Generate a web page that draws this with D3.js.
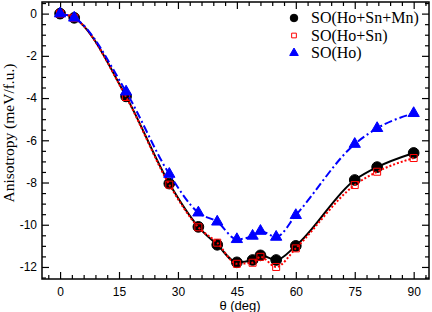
<!DOCTYPE html>
<html>
<head>
<meta charset="utf-8">
<script src="https://cdn.jsdelivr.net/npm/d3@7"></script>
<style>
  body { margin: 0; background: #fff; }
  svg { display: block; }
</style>
</head>
<body>
<svg id="chart" width="432" height="312"></svg>
<script>
const angles = [0, 3.6, 16.8, 27.8, 35.2, 40, 45, 49, 51, 55, 60, 75, 80.7, 90]
const soHoSnMn = [0, -0.2, -3.92, -8.05, -10.1, -10.95, -11.78, -11.67, -11.45, -11.67, -11.0, -7.88, -7.27, -6.6]
const soHoSn = [0, -0.2, -3.95, -8.1, -10.12, -10.85, -11.85, -11.8, -11.52, -12.0, -11.12, -8.12, -7.49, -6.84]
const soHo = [0, -0.2, -3.7, -7.6, -9.43, -9.86, -10.69, -10.53, -10.3, -10.58, -9.55, -6.18, -5.43, -4.72]

const xTicks = [0, 15, 30, 45, 60, 75, 90]
const yTicks = [0, -2, -4, -6, -8, -10, -12]
const seriesNames = ["SO(Ho+Sn+Mn)", "SO(Ho+Sn)", "SO(Ho)"]

const svg = d3.select('#chart')
const plotL = 42, plotR = 429, plotT = 2, plotB = 279

const x = d3.scaleLinear().domain([-4.6, 93.9]).range([plotL, plotR])
const y = d3.scaleLinear().domain([0.55, -12.57]).range([plotT, plotB])

const xMinor = d3.range(-3, 94, 3).filter(v => v % 15 !== 0)
const yMinor = d3.range(0.5, -12.6, -0.5).filter(v => v % 2 !== 0)

const tickFont = "'Liberation Sans', Arial, sans-serif"
const serif = "'Liberation Serif', 'Times New Roman', serif"

function styleAxis (g) {
  g.select('.domain').remove()
  g.selectAll('line').attr('stroke', '#000').attr('stroke-width', 1.2)
  g.selectAll('text').attr('fill', '#000').style('font-family', tickFont).style('font-size', '12px')
}

// bottom / top
svg.append('g').attr('transform', `translate(0,${plotB})`)
  .call(d3.axisBottom(x).tickValues(xTicks).tickSize(-7).tickPadding(8.5).tickFormat(d3.format('d')))
  .call(styleAxis)
svg.append('g').attr('transform', `translate(0,${plotB})`)
  .call(d3.axisBottom(x).tickValues(xMinor).tickSize(-4).tickFormat(''))
  .call(styleAxis)
svg.append('g').attr('transform', `translate(0,${plotT})`)
  .call(d3.axisTop(x).tickValues(xTicks).tickSize(-7).tickFormat(''))
  .call(styleAxis)
svg.append('g').attr('transform', `translate(0,${plotT})`)
  .call(d3.axisTop(x).tickValues(xMinor).tickSize(-4).tickFormat(''))
  .call(styleAxis)

// left / right
svg.append('g').attr('transform', `translate(${plotL},0)`)
  .call(d3.axisLeft(y).tickValues(yTicks).tickSize(-7).tickPadding(5).tickFormat(d => d === 0 ? '0' : '-' + Math.abs(d)))
  .call(styleAxis)
svg.append('g').attr('transform', `translate(${plotL},0)`)
  .call(d3.axisLeft(y).tickValues(yMinor).tickSize(-4).tickFormat(''))
  .call(styleAxis)
svg.append('g').attr('transform', `translate(${plotR},0)`)
  .call(d3.axisRight(y).tickValues(yTicks).tickSize(-7).tickFormat(''))
  .call(styleAxis)
svg.append('g').attr('transform', `translate(${plotR},0)`)
  .call(d3.axisRight(y).tickValues(yMinor).tickSize(-4).tickFormat(''))
  .call(styleAxis)

svg.append('rect')
  .attr('x', plotL).attr('y', plotT)
  .attr('width', plotR - plotL).attr('height', plotB - plotT)
  .attr('fill', 'none').attr('stroke', '#000').attr('stroke-width', 1.5)

// axis labels
svg.append('text')
  .attr('x', 240).attr('y', 309.5)
  .attr('text-anchor', 'middle')
  .style('font-family', tickFont).style('font-size', '13px')
  .text('θ (deg)')

svg.append('text')
  .attr('transform', 'translate(14,133) rotate(-90)')
  .attr('text-anchor', 'middle')
  .style('font-family', serif).style('font-size', '15.5px')
  .text('Anisotropy (meV/f.u.)')

// series
const line = d3.line().curve(d3.curveMonotoneX)
const series = [
  { name: seriesNames[0], values: soHoSnMn, color: '#000', dash: null,
    symbol: d3.symbolCircle, size: 90, fill: '#000', legendSize: 45 },
  { name: seriesNames[1], values: soHoSn, color: '#ff0000', dash: '2,2',
    symbol: d3.symbolSquare, size: 49, fill: 'none', legendSize: 22 },
  { name: seriesNames[2], values: soHo, color: '#0000ff', dash: '8,3,2,3',
    symbol: d3.symbolTriangle, size: 55, fill: '#0000ff', legendSize: 32 }
]

series.forEach(s => {
  const pts = angles.map((a, i) => [x(a), y(s.values[i])])
  svg.append('path')
    .attr('d', line(pts))
    .attr('fill', 'none')
    .attr('stroke', s.color)
    .attr('stroke-width', 2)
    .attr('stroke-dasharray', s.dash)

  svg.append('g').selectAll('path')
    .data(pts)
    .join('path')
    .attr('d', d3.symbol().type(s.symbol).size(s.size))
    .attr('transform', d => `translate(${d[0]},${d[1]})`)
    .attr('fill', s.fill)
    .attr('stroke', s.color)
    .attr('stroke-width', 1)
})

// legend
const legend = svg.append('g')
series.forEach((s, i) => {
  const ly = 18 + i * 17.5
  legend.append('path')
    .attr('d', d3.symbol().type(s.symbol).size(s.legendSize))
    .attr('transform', `translate(294,${ly})`)
    .attr('fill', s.fill)
    .attr('stroke', s.color)
    .attr('stroke-width', 1)
  legend.append('text')
    .attr('x', 311).attr('y', ly + 5)
    .style('font-family', serif).style('font-size', '16px')
    .text(s.name)
})
</script>
</body>
</html>
